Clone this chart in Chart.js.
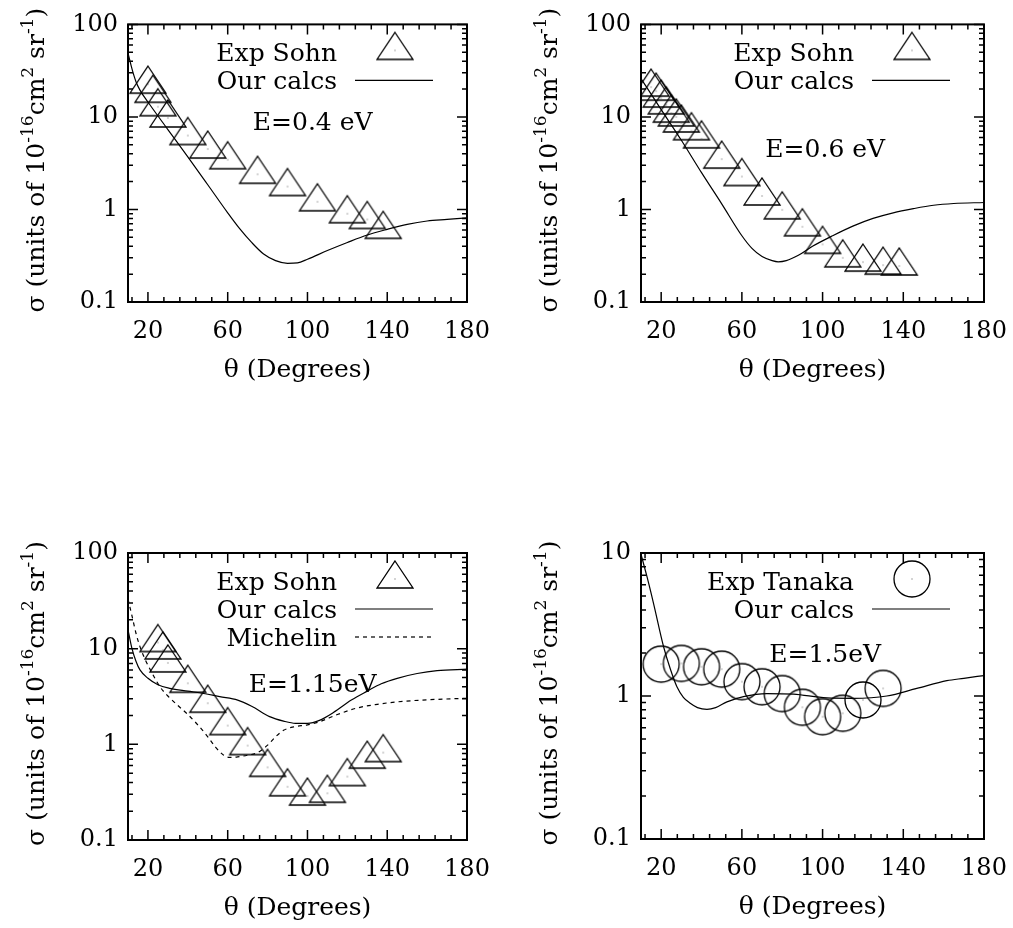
<!DOCTYPE html>
<html>
<head>
<meta charset="utf-8">
<title>Differential cross sections</title>
<script src="https://cdn.jsdelivr.net/npm/chart.js@4.4.1/dist/chart.umd.min.js"></script>
<style>
  html, body { margin: 0; padding: 0; background: #fff; }
  body { position: relative; width: 1013px; height: 928px; overflow: hidden; }
  canvas { position: absolute; }
</style>
</head>
<body>
<canvas id="p1" width="506" height="400" style="left:0;top:0"></canvas>
<canvas id="p2" width="530" height="400" style="left:507px;top:0"></canvas>
<canvas id="p3" width="506" height="458" style="left:0;top:470px"></canvas>
<canvas id="p4" width="530" height="458" style="left:507px;top:470px"></canvas>
<script>
const xTicks = [20, 60, 100, 140, 180];
const yTicksWide = [0.1, 1, 10, 100];
const yTicksNarrow = [0.1, 1, 10];
const xTitle = "θ (Degrees)";
// [text, superscript?]
const yTitleParts = [["σ (units of 10", false], ["-16", true], ["cm", false], ["2", true], [" sr", false], ["-1", true], [")", false]];

// E = 0.4 eV
const sohn04Deg = [20, 22.5, 25, 30, 40, 50, 60, 75, 90, 105, 120, 130, 138];
const sohn04Val = [22.6, 18, 12.9, 9.75, 6.3, 4.5, 3.45, 2.4, 1.77, 1.21, 0.9, 0.78, 0.61];
const calc04Deg = [10, 12, 14, 16, 20, 30, 40, 50, 60, 66, 72, 78, 84, 90, 95, 100, 110, 120, 130, 140, 150, 160, 170, 180];
const calc04Val = [49, 33, 24, 19.5, 14.5, 7.3, 3.7, 1.85, 0.92, 0.62, 0.44, 0.33, 0.28, 0.262, 0.265, 0.29, 0.36, 0.44, 0.53, 0.61, 0.69, 0.75, 0.78, 0.81];

// E = 0.6 eV
const sohn06Deg = [15, 17.5, 20, 22.5, 25, 27.5, 30, 35, 40, 50, 60, 70, 80, 90, 100, 110, 120, 130, 138];
const sohn06Val = [21, 19, 16, 13.5, 11, 10, 8.6, 7.1, 5.8, 3.5, 2.27, 1.4, 0.99, 0.65, 0.42, 0.3, 0.27, 0.25, 0.245];
const calc06Deg = [10, 20, 30, 40, 50, 60, 65, 70, 75, 78, 82, 88, 95, 105, 115, 125, 135, 145, 155, 165, 180];
const calc06Val = [26, 12, 5.6, 2.5, 1.15, 0.52, 0.38, 0.31, 0.28, 0.272, 0.28, 0.32, 0.4, 0.52, 0.66, 0.8, 0.92, 1.02, 1.11, 1.16, 1.19];

// E = 1.15 eV
const sohn115Deg = [25, 27.5, 30, 40, 50, 60, 70, 80, 90, 100, 110, 120, 130, 138];
const sohn115Val = [11.6, 9.7, 7.1, 4.35, 2.69, 1.57, 0.97, 0.575, 0.36, 0.288, 0.308, 0.46, 0.7, 0.82];
const calc115Deg = [10, 12, 14, 16, 20, 25, 31, 40, 48, 56, 65, 72, 81, 88, 94, 100, 106, 113, 122, 130, 137, 145, 155, 165, 180];
const calc115Val = [15.7, 10, 7.4, 6, 4.9, 4.2, 3.85, 3.6, 3.4, 3.15, 2.9, 2.5, 1.95, 1.75, 1.66, 1.66, 1.78, 2.15, 2.9, 3.6, 4.3, 4.9, 5.5, 5.9, 6.1];
const mich115Deg = [10, 12, 14, 16, 19, 22, 26, 30, 35, 40, 45, 50, 54, 58, 61, 65, 70, 75, 80, 84, 88, 93, 100, 106, 115, 125, 135, 145, 160, 180];
const mich115Val = [33, 22, 14.5, 10.5, 7.4, 5.6, 4.0, 3.2, 2.55, 2.05, 1.6, 1.2, 0.93, 0.77, 0.73, 0.74, 0.77, 0.82, 0.98, 1.2, 1.4, 1.52, 1.6, 1.72, 2.05, 2.4, 2.62, 2.78, 2.92, 3.03];

// E = 1.5 eV
const tanaka15Deg = [20, 30, 40, 50, 60, 70, 80, 90, 100, 110, 120, 130];
const tanaka15Val = [1.67, 1.69, 1.6, 1.54, 1.26, 1.16, 1.04, 0.834, 0.716, 0.757, 0.938, 1.13];
const calc15Deg = [10, 13, 16.2, 21.2, 24.5, 27.8, 31, 34.4, 38, 42.7, 47, 52.6, 60.8, 72.4, 85.6, 102, 115, 131.8, 146.7, 161.6, 170, 180];
const calc15Val = [9.8, 6.8, 4.45, 2.21, 1.55, 1.16, 0.98, 0.89, 0.83, 0.807, 0.83, 0.91, 0.99, 1.04, 1.03, 0.97, 0.964, 1.0, 1.13, 1.28, 1.33, 1.39];

const FONT = '"DejaVu Serif", "Liberation Serif", serif';

function makeSymbol(kind) {
  const c = document.createElement("canvas");
  c.width = 40;
  c.height = 40;
  const g = c.getContext("2d");
  g.strokeStyle = "#000";
  g.lineWidth = 1.3;
  g.beginPath();
  if (kind === "tri") {
    // centroid sits at the middle of the image
    g.moveTo(20, 2);
    g.lineTo(38, 29);
    g.lineTo(2, 29);
    g.closePath();
  } else {
    g.arc(20, 20, 18, 0, Math.PI * 2);
  }
  g.stroke();
  g.fillStyle = "#555";
  g.fillRect(19.5, 19.5, 1, 1);
  return c;
}

const symbols = { tri: makeSymbol("tri"), circ: makeSymbol("circ") };

function pts(xs, ys) {
  return xs.map((x, i) => ({ x, y: ys[i] }));
}

function expSet(label, xs, ys, kind) {
  return {
    label,
    data: pts(xs, ys),
    showLine: false,
    pointStyle: symbols[kind],
    pointRadius: 18,
    pointHoverRadius: 18,
    borderColor: "#000",
    backgroundColor: "transparent",
    symbol: kind,
  };
}

function calcSet(label, xs, ys, dashed) {
  return {
    label,
    data: pts(xs, ys),
    borderColor: "#000",
    borderWidth: 1.2,
    borderDash: dashed ? [4, 4] : [],
    pointRadius: 0,
    cubicInterpolationMode: "monotone",
    fill: false,
    symbol: dashed ? "dash" : "solid",
  };
}

const panelDeco = {
  id: "panelDeco",
  afterDatasetsDraw(chart, args, opts) {
    const { ctx, chartArea: a } = chart;
    const x = chart.scales.x;
    const y = chart.scales.y;
    ctx.save();
    ctx.strokeStyle = "#000";
    ctx.lineWidth = 1.5;
    ctx.beginPath();
    // x ticks, inside, mirrored on top
    for (let v = 12; v <= 180; v += 8) {
      const px = x.getPixelForValue(v);
      const len = xTicks.includes(v) ? 10 : 5;
      ctx.moveTo(px, a.bottom);
      ctx.lineTo(px, a.bottom - len);
      ctx.moveTo(px, a.top);
      ctx.lineTo(px, a.top + len);
    }
    // log y ticks, inside, mirrored on right
    const kMin = Math.round(Math.log10(y.min));
    const kMax = Math.round(Math.log10(y.max));
    for (let k = kMin; k <= kMax; k++) {
      for (let m = 1; m <= 9; m++) {
        if (k === kMax && m > 1) break;
        const py = y.getPixelForValue(m * Math.pow(10, k));
        const len = m === 1 ? 10 : 5;
        ctx.moveTo(a.left, py);
        ctx.lineTo(a.left + len, py);
        ctx.moveTo(a.right, py);
        ctx.lineTo(a.right - len, py);
      }
    }
    ctx.stroke();
    ctx.lineWidth = 2;
    ctx.strokeRect(a.left, a.top, a.right - a.left, a.bottom - a.top);

    // key, gnuplot style
    ctx.fillStyle = "#000";
    ctx.font = "25px " + FONT;
    ctx.textAlign = "right";
    ctx.textBaseline = "alphabetic";
    chart.data.datasets.forEach((ds, i) => {
      const rowY = a.top + 28 + 28 * i;
      ctx.fillText(ds.label, a.right - 130, rowY + 9);
      if (ds.symbol === "tri" || ds.symbol === "circ") {
        const img = symbols[ds.symbol];
        ctx.drawImage(img, a.right - 72 - img.width / 2, rowY - 2 - img.height / 2);
      } else {
        ctx.lineWidth = 1.2;
        ctx.setLineDash(ds.symbol === "dash" ? [4, 4] : []);
        ctx.beginPath();
        ctx.moveTo(a.right - 112, rowY);
        ctx.lineTo(a.right - 34, rowY);
        ctx.stroke();
        ctx.setLineDash([]);
      }
    });

    // energy label
    ctx.font = "25px " + FONT;
    ctx.textAlign = "center";
    ctx.fillText(opts.energy, x.getPixelForValue(opts.energyAt[0]), y.getPixelForValue(opts.energyAt[1]) + 9);

    // y title with superscripts
    const big = "25px " + FONT;
    const small = "17px " + FONT;
    let total = 0;
    const widths = yTitleParts.map(([t, sup]) => {
      ctx.font = sup ? small : big;
      const w = ctx.measureText(t).width;
      total += w;
      return w;
    });
    ctx.translate(a.left - 84, (a.top + a.bottom) / 2 - 3);
    ctx.rotate(-Math.PI / 2);
    ctx.textAlign = "left";
    let cx = -total / 2;
    yTitleParts.forEach(([t, sup], i) => {
      ctx.font = sup ? small : big;
      ctx.fillText(t, cx, sup ? -11 : 0);
      cx += widths[i];
    });
    ctx.restore();
  },
};

function makePanel(id, area, datasets, yTicks, energy, energyAt) {
  const canvas = document.getElementById(id);
  const W = canvas.width;
  const H = canvas.height;
  const [L, T, R, B] = area;
  const titlePad = H - (B + 68) - 15;
  return new Chart(canvas, {
    type: "line",
    data: { datasets },
    plugins: [panelDeco],
    options: {
      responsive: false,
      animation: false,
      events: [],
      layout: { padding: { left: 0, top: T, right: W - R, bottom: 0 } },
      plugins: {
        legend: { display: false },
        tooltip: { enabled: false },
        panelDeco: { energy, energyAt },
      },
      scales: {
        x: {
          type: "linear",
          min: 10,
          max: 180,
          afterBuildTicks: (s) => { s.ticks = xTicks.map((v) => ({ value: v })); },
          afterFit: (s) => { s.height = H - B; },
          grid: { display: false, drawTicks: false },
          border: { display: false },
          ticks: { color: "#000", font: { family: FONT, size: 24 }, padding: 15, maxRotation: 0, autoSkip: false },
          title: { display: true, text: xTitle, color: "#000", font: { family: FONT, size: 25 }, padding: { top: 0, bottom: titlePad } },
        },
        y: {
          type: "logarithmic",
          min: yTicks[0],
          max: yTicks[yTicks.length - 1],
          afterBuildTicks: (s) => { s.ticks = yTicks.map((v) => ({ value: v })); },
          afterFit: (s) => { s.width = L; },
          grid: { display: false, drawTicks: false },
          border: { display: false },
          ticks: { color: "#000", font: { family: FONT, size: 24 }, padding: 10, callback: (v) => String(v) },
        },
      },
    },
  });
}

makePanel("p1", [128, 15, 467, 302], [
  expSet("Exp Sohn", sohn04Deg, sohn04Val, "tri"),
  calcSet("Our calcs", calc04Deg, calc04Val, false),
], yTicksWide, "E=0.4 eV", [102.6, 9.0]);

makePanel("p2", [134, 15, 477, 302], [
  expSet("Exp Sohn", sohn06Deg, sohn06Val, "tri"),
  calcSet("Our calcs", calc06Deg, calc06Val, false),
], yTicksWide, "E=0.6 eV", [101.3, 4.6]);

makePanel("p3", [128, 83, 467, 370], [
  expSet("Exp Sohn", sohn115Deg, sohn115Val, "tri"),
  calcSet("Our calcs", calc115Deg, calc115Val, false),
  calcSet("Michelin", mich115Deg, mich115Val, true),
], yTicksWide, "E=1.15eV", [102.6, 4.4]);

makePanel("p4", [134, 83, 477, 369], [
  expSet("Exp Tanaka", tanaka15Deg, tanaka15Val, "circ"),
  calcSet("Our calcs", calc15Deg, calc15Val, false),
], yTicksNarrow, "E=1.5eV", [101.3, 2.0]);
</script>
</body>
</html>
